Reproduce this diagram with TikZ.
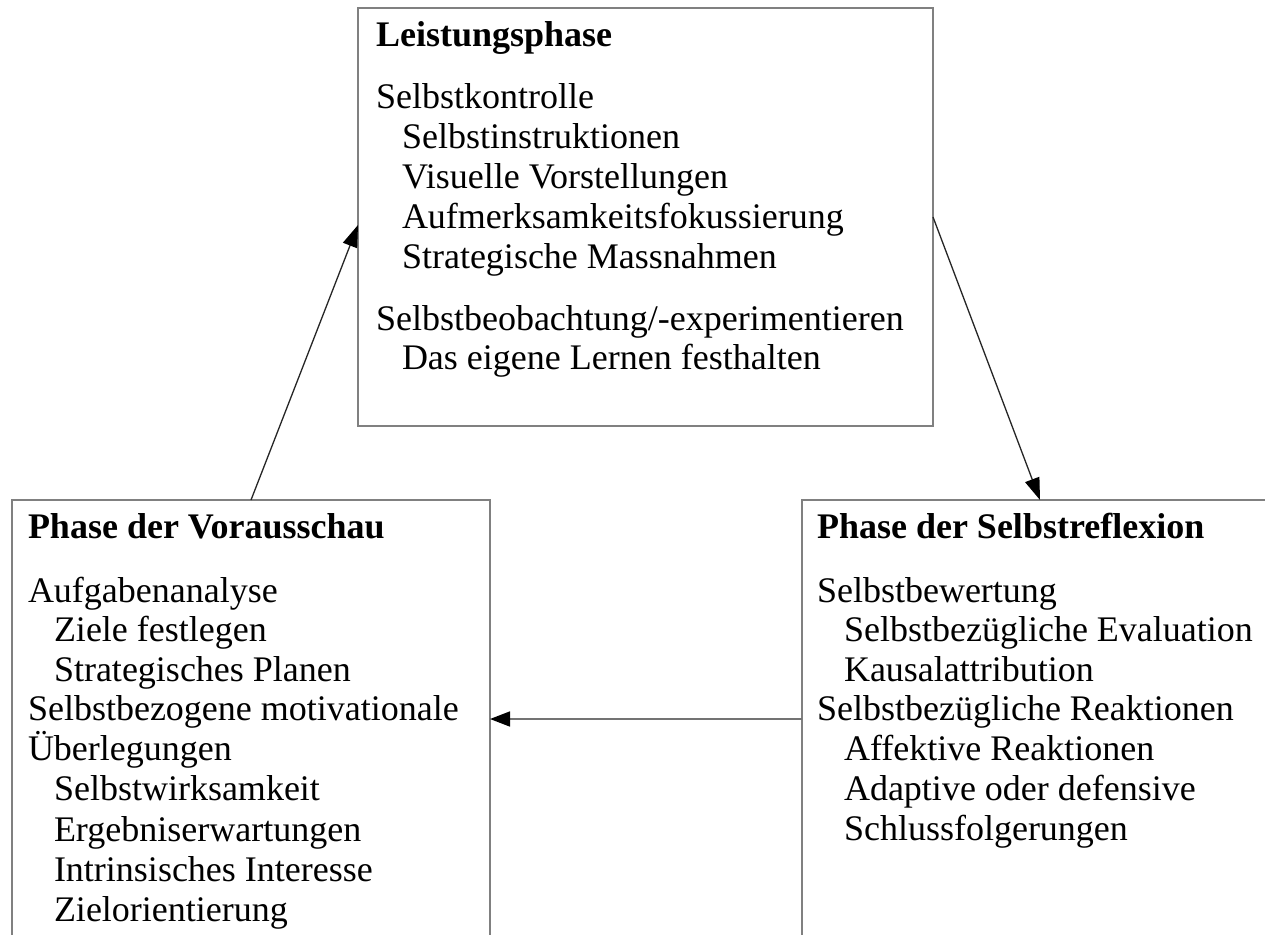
\documentclass[tikz,border=0pt]{standalone}
\usepackage{fontspec}
\setmainfont{Liberation Serif}
\usetikzlibrary{arrows.meta}
\tikzset{
  box/.style={draw=black!50, line width=1.5pt, outer sep=0pt, inner sep=0pt, anchor=north west},
  txt/.style={anchor=base west, inner sep=0pt, outer sep=0pt, font=\fontsize{36}{40}\selectfont},
  head/.style={txt, font=\fontsize{36}{40}\selectfont\bfseries},
  arr/.style={-{Triangle[length=22pt,width=15pt,color=black]}, line width=1.3pt, draw=black!85},
  harr/.style={-{Triangle[length=20pt,width=15pt,color=black]}, line width=1.6pt, draw=black!55},
}
\begin{document}
\begin{tikzpicture}[x=1pt,y=-1pt]
\useasboundingbox (0,0) rectangle (1265,934);
\fill[white] (0,0) rectangle (1265,934);
\clip (0,0) rectangle (1265,934);

% boxes
\node[box, minimum width=575pt, minimum height=418pt] (top) at (358,8) {};
\node[box, minimum width=478pt, minimum height=520pt] (left) at (12,500) {};
\node[box, minimum width=520pt, minimum height=520pt] (right) at (802,500) {};

% connector end points on the box edges
\coordinate (topL) at (358,225);
\coordinate (leftT) at (251,500);
\coordinate (topR) at (933,217);
\coordinate (rightT) at (1040,500);
\coordinate (rightL) at (802,719);
\coordinate (leftR) at (490,719);

\draw[arr] (leftT) -- (topL);
\draw[arr] (topR) -- (rightT);
\draw[harr] (rightL) -- (leftR);

% top box text
\node[head] (t1) at (376,47) {Leistungsphase};
\node[txt] (t2) at (376,108) {Selbstkontrolle};
\node[txt] (t3) at (402,148) {Selbstinstruktionen};
\node[txt] (t4) at (402,188) {Visuelle Vorstellungen};
\node[txt] (t5) at (402,228) {Aufmerksamkeitsfokussierung};
\node[txt] (t6) at (402,268) {Strategische Massnahmen};
\node[txt] (t7) at (376,330) {Selbstbeobachtung/-experimentieren};
\node[txt] (t8) at (402,369) {Das eigene Lernen festhalten};

% left box text
\node[head] (l1) at (28,538) {Phase der Vorausschau};
\node[txt] (l2) at (28,602) {Aufgabenanalyse};
\node[txt] (l3) at (54,641) {Ziele festlegen};
\node[txt] (l4) at (54,681) {Strategisches Planen};
\node[txt] (l5) at (28,720) {Selbstbezogene motivationale};
\node[txt] (l6) at (28,760) {Überlegungen};
\node[txt] (l7) at (54,800) {Selbstwirksamkeit};
\node[txt] (l8) at (54,841) {Ergebniserwartungen};
\node[txt] (l9) at (54,881) {Intrinsisches Interesse};
\node[txt] (l10) at (54,921) {Zielorientierung};

% right box text
\node[head] (r1) at (817,538) {Phase der Selbstreflexion};
\node[txt] (r2) at (817,602) {Selbstbewertung};
\node[txt] (r3) at (844,641) {Selbstbezügliche Evaluation};
\node[txt] (r4) at (844,681) {Kausalattribution};
\node[txt] (r5) at (817,720) {Selbstbezügliche Reaktionen};
\node[txt] (r6) at (844,760) {Affektive Reaktionen};
\node[txt] (r7) at (844,800) {Adaptive oder defensive};
\node[txt] (r8) at (844,840) {Schlussfolgerungen};
\end{tikzpicture}
\end{document}
